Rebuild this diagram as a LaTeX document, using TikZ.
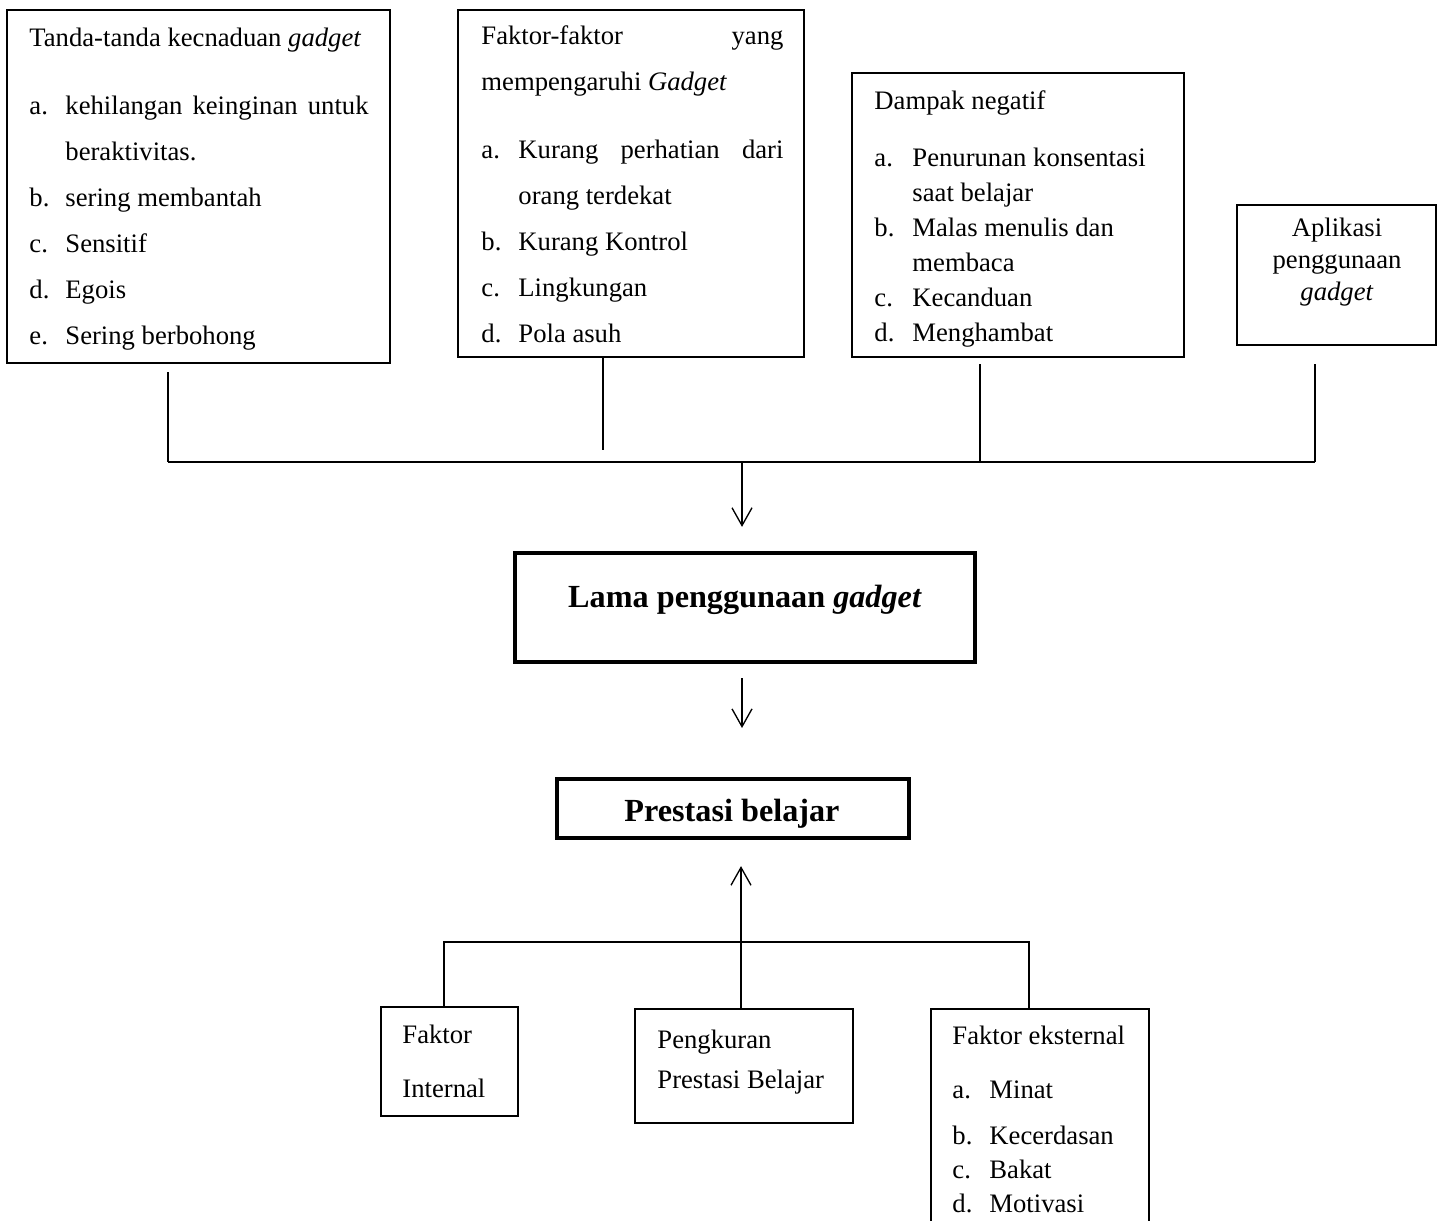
\documentclass[tikz,border=0pt]{standalone}
\usepackage{fontspec}
\setmainfont{Liberation Serif}
\usepackage{tikz}
\usetikzlibrary{arrows.meta,fit}
\newlength{\itmw}
\newcommand{\itm}[2]{\par\hangindent=\itmw\hangafter=1\noindent\makebox[\itmw][l]{#1}#2}

\begin{document}
\begin{tikzpicture}[
  x=0.45pt,y=-0.45pt,
  card/.style={draw,line width=1.2pt,inner sep=0pt},
  keycard/.style={draw,line width=1.9pt,inner sep=0pt},
  txt/.style={inner sep=0pt,anchor=base west,align=justify},
  keytxt/.style={inner sep=0pt,anchor=base,font=\bfseries\fontsize{14.5}{17}\selectfont},
  link/.style={line width=0.6pt},
  arr/.style={link,-{Straight Barb[length=8pt,width=9pt]}}
]
  \clip (0,0) rectangle (1444,1221);

  \node[card,fit={(7,10)(390,363)}] (tanda) {};
  \node[card,fit={(458,10)(804,357)}] (faktor) {};
  \node[card,fit={(852,73)(1184,357)}] (dampak) {};
  \node[card,fit={(1237,205)(1436,345)}] (aplikasi) {};
  \node[keycard,fit={(515,553)(975,662)}] (lama) {};
  \node[keycard,fit={(557,779)(909,838)}] (prestasi) {};
  \node[card,fit={(381,1007)(518,1116)}] (internal) {};
  \node[card,fit={(635,1009)(853,1123)}] (pengkuran) {};
  \node[card,fit={(931,1009)(1149,1240)}] (eksternal) {};

  \node[txt,text width=152.6pt,font=\fontsize{12}{20.7}\selectfont] (tandatxt) at (29,47)
    {\tolerance=10000\hbadness=10000 Tanda-tanda kecnaduan \textit{gadget}\par\vspace{9.9pt}\setlength{\itmw}{16.2pt}%
     \itm{a.}{kehilangan keinginan untuk\linebreak beraktivitas.}\itm{b.}{sering membantah}%
     \itm{c.}{Sensitif}\itm{d.}{Egois}\itm{e.}{Sering berbohong}};
  \node[txt,text width=135.9pt,font=\fontsize{12}{20.7}\selectfont] (faktortxt) at (481,45)
    {\tolerance=10000\hbadness=10000 Faktor-faktor yang\linebreak mempengaruhi \textit{Gadget}\par\vspace{9.9pt}\setlength{\itmw}{16.65pt}%
     \itm{a.}{Kurang perhatian dari\linebreak orang terdekat}\itm{b.}{Kurang Kontrol}%
     \itm{c.}{Lingkungan}\itm{d.}{Pola asuh}};
  \node[txt,text width=130.5pt,font=\fontsize{12}{15.75}\selectfont] (dampaktxt) at (874,110)
    {\raggedright Dampak negatif\par\vspace{9.9pt}\setlength{\itmw}{17.1pt}%
     \itm{a.}{Penurunan konsentasi\newline saat belajar}\itm{b.}{Malas menulis dan\newline membaca}%
     \itm{c.}{Kecanduan}\itm{d.}{Menghambat}};
  \node[inner sep=0pt,anchor=base,align=center,text width=81pt,font=\fontsize{12}{14.4}\selectfont] (aplikasitxt) at (1337,237)
    {Aplikasi\\penggunaan\\\textit{gadget}};
  \node[keytxt] (lamatxt) at (745,608) {Lama penggunaan \textit{gadget}};
  \node[keytxt] (prestasitxt) at (732,822) {Prestasi belajar};
  \node[txt,text width=45pt,font=\fontsize{12}{24.3}\selectfont] (internaltxt) at (402,1043)
    {\raggedright Faktor\\Internal};
  \node[txt,text width=81pt,font=\fontsize{12}{18}\selectfont] (pengkurantxt) at (657,1048)
    {\raggedright Pengkuran\\Prestasi Belajar};
  \node[txt,text width=85.5pt,font=\fontsize{12}{15.3}\selectfont] (eksternaltxt) at (952,1044)
    {\raggedright Faktor eksternal\par\vspace{9pt}\setlength{\itmw}{16.65pt}%
     \itm{a.}{Minat}\par\vspace{5.4pt}\itm{b.}{Kecerdasan}\itm{c.}{Bakat}\itm{d.}{Motivasi}};

  \coordinate (bus1) at (168,462);
  \coordinate (drop2) at (603,450);
  \coordinate (bus3) at (980,462);
  \coordinate (bus4) at (1315,462);
  \coordinate (busmid) at (742,462);
  \coordinate (base1) at (444,942);
  \coordinate (basemid) at (741,942);
  \coordinate (base3) at (1029,942);

  \draw[link] (bus1) -- (bus4);
  \draw[link] (tanda.south -| bus1) ++(0,8) -- (bus1);
  \draw[link] (faktor.south -| drop2) -- (drop2);
  \draw[link] (dampak.south -| bus3) ++(0,6) -- (bus3);
  \draw[link] (aplikasi.south -| bus4) ++(0,18) -- (bus4);
  \draw[arr,shorten >=10.8pt] (busmid) -- (busmid |- lama.north);
  \draw[arr,shorten <=6.3pt,shorten >=22pt] (lama.south -| busmid) -- (prestasi.north -| busmid);
  \draw[arr,shorten >=11.7pt] (basemid) -- (basemid |- prestasi.south);
  \draw[link] (internal.north -| base1) -- (base1) -- (base3) -- (eksternal.north -| base3);
  \draw[link] (basemid) -- (pengkuran.north -| basemid);
\end{tikzpicture}
\end{document}
